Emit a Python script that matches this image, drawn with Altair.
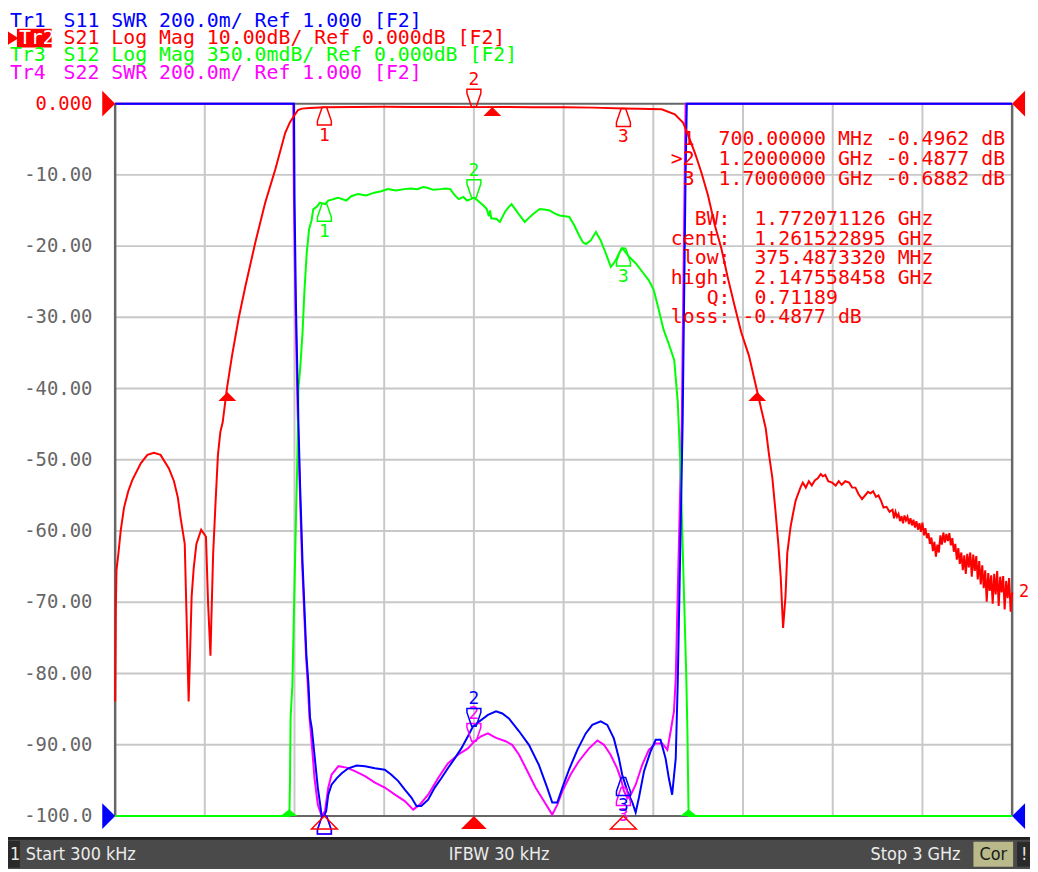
import altair as alt
import pandas as pd

NB = "\u00a0"

# ---------------- data (frequency MHz, value in display units of Tr2: dB, 10 dB/div) ----------------
s21 = [(0.3, -83.9), (2.5, -71.0), (4.7, -65.5), (11, -63.2), (19, -59.9), (30, -56.7), (44, -54.4),
       (58, -52.8), (86, -50.5), (108, -49.3), (130, -49.0), (152, -49.3), (180, -51.2), (197, -53.0),
       (210, -55.3), (219, -58.1), (233, -61.8), (239, -71.9), (246, -83.9), (249, -79.8), (256, -69.2),
       (263, -65.2), (272, -61.8), (288, -59.8), (304, -60.8), (311, -70.1), (319, -77.5), (322, -72.4),
       (328, -63.2), (336, -56.0), (344, -49.3), (352, -46.1), (360, -44.7), (374, -40.0), (391, -35.4),
       (413, -30.2), (436, -25.6), (469, -19.5), (502, -13.9), (536, -9.2), (569, -4.1), (585, -2.6),
       (602, -1.5), (612, -0.9), (625, -0.7), (650, -0.6), (700, -0.50), (800, -0.47), (900, -0.45),
       (1000, -0.47), (1100, -0.48), (1200, -0.49), (1300, -0.47), (1400, -0.50), (1500, -0.52),
       (1600, -0.56), (1700, -0.69), (1750, -0.72), (1828, -0.8), (1872, -1.5), (1900, -2.7),
       (1917, -4.5), (1939, -6.9), (1961, -9.7), (1983, -12.9), (2006, -17.1), (2028, -20.4),
       (2050, -24.6), (2072, -28.4), (2094, -32.1), (2120, -35.4), (2148, -40.5), (2176, -45.6),
       (2187, -49.3), (2198, -52.5), (2209, -57.4), (2218, -61.8), (2226, -66.4), (2234, -73.6),
       (2242, -69.2), (2248, -63.1), (2259, -59.4), (2267, -57.6), (2276, -55.7), (2292, -53.9),
       (2300, -53.2), (2310, -53.9), (2320, -53.0), (2330, -53.6), (2340, -52.9), (2350, -52.6),
       (2360, -52.0), (2367, -52.3), (2375, -52.1), (2385, -53.0), (2398, -53.2), (2410, -53.6),
       (2420, -53.0), (2430, -53.5), (2442, -53.0), (2455, -53.2), (2465, -53.9), (2476, -53.9),
       (2486, -54.8), (2498, -55.5), (2510, -54.9), (2518, -54.5), (2526, -54.7), (2535, -54.4),
       (2545, -55.2), (2553, -55.0), (2562, -55.8), (2570, -56.7), (2580, -56.6), (2590, -57.3),
       (2600, -57.0), (2605, -58.2), (2610, -57.3), (2615, -58.0), (2620, -57.6), (2625, -58.6),
       (2630, -57.9), (2635, -58.9), (2640, -57.8), (2645, -58.5), (2650, -58.0), (2655, -59.0),
       (2660, -58.2), (2665, -59.2), (2670, -58.4), (2675, -59.5), (2680, -58.6), (2685, -59.8),
       (2690, -58.9), (2695, -60.1), (2700, -58.8), (2705, -60.6), (2710, -59.6), (2715, -61.0),
       (2720, -60.3), (2725, -61.8), (2730, -60.9), (2735, -62.8), (2740, -61.5), (2745, -63.6),
       (2750, -61.9), (2755, -63.0), (2760, -60.6), (2765, -61.9), (2770, -60.2), (2775, -61.6),
       (2780, -60.4), (2785, -61.4), (2790, -60.3), (2795, -62.0), (2800, -61.0), (2805, -62.9),
       (2810, -61.8), (2815, -64.0), (2820, -62.4), (2825, -64.6), (2830, -63.0), (2835, -65.5),
       (2840, -63.4), (2845, -66.0), (2850, -63.2), (2855, -65.1), (2860, -63.0), (2865, -66.4),
       (2870, -63.3), (2875, -65.6), (2880, -63.5), (2885, -66.8), (2890, -64.2), (2895, -67.5),
       (2900, -64.8), (2905, -68.0), (2910, -65.5), (2915, -69.9), (2920, -65.9), (2925, -68.4),
       (2930, -66.2), (2935, -70.2), (2940, -66.0), (2945, -68.9), (2950, -65.6), (2955, -70.5),
       (2960, -66.4), (2965, -68.6), (2970, -66.3), (2975, -71.0), (2980, -67.0), (2985, -69.4),
       (2990, -66.6), (2995, -71.3), (3000, -68.6)]

s12 = [(0.3, -100), (583, -100), (585, -95), (587, -86.2), (593, -81.6), (599, -69.8), (606, -56.2),
       (611, -47.5), (613, -40.0), (619, -37.2), (627, -32.1), (633, -26.5), (641, -20.9), (649, -17.6),
       (657, -16.4), (663, -14.8), (674, -14.5), (685, -13.9), (702, -14.1), (713, -13.6), (746, -13.2),
       (773, -13.6), (790, -13.0), (812, -12.7), (840, -12.9), (867, -12.5), (890, -12.3), (912, -12.0),
       (940, -12.2), (967, -12.0), (990, -11.9), (1011, -12.0), (1030, -11.7), (1044, -11.8),
       (1065, -12.1), (1088, -12.0), (1105, -11.9), (1121, -12.0), (1135, -12.8), (1149, -13.4),
       (1165, -13.1), (1177, -13.6), (1190, -13.4), (1199, -13.2), (1210, -13.5), (1221, -13.9),
       (1232, -14.3), (1243, -14.8), (1250, -15.8), (1254, -15.0), (1258, -16.1), (1276, -16.2),
       (1287, -16.6), (1304, -15.2), (1315, -14.6), (1326, -14.1), (1338, -14.8), (1350, -15.5),
       (1370, -16.6), (1385, -16.0), (1398, -15.5), (1420, -14.8), (1440, -14.9), (1453, -15.0),
       (1470, -15.4), (1486, -15.7), (1505, -15.8), (1519, -15.9), (1536, -17.1), (1552, -18.5),
       (1565, -19.5), (1575, -19.7), (1591, -19.2), (1608, -18.0), (1616, -18.6), (1624, -19.2),
       (1641, -21.0), (1658, -22.9), (1666, -22.5), (1674, -22.0), (1688, -20.8), (1697, -20.3),
       (1708, -20.9), (1719, -21.5), (1741, -22.4), (1763, -23.6), (1785, -24.8), (1801, -26.1),
       (1818, -28.9), (1834, -31.7), (1850, -33.5), (1870, -36.0), (1882, -42.0), (1890, -50.0),
       (1900, -65.0), (1910, -80.0), (1914, -88.0), (1918, -100), (3000, -100)]

s11 = [(0.3, 0), (598, 0), (600, -13.0), (605, -28.4), (613, -44.5), (619, -53.9), (627, -64.5),
       (633, -70.5), (640, -77.5), (647, -81.6), (652, -86.2), (658, -87.7), (669, -92.3), (678, -96.0),
       (686, -98.4), (691, -100), (699, -100), (706, -99.3), (713, -97.0), (724, -95.6), (741, -94.7),
       (758, -94.0), (780, -93.3), (808, -92.9), (836, -93.0), (869, -93.3), (902, -93.5), (924, -94.2),
       (947, -95.1), (969, -96.3), (991, -97.4), (1008, -98.6), (1024, -98.6), (1047, -97.7),
       (1069, -96.0), (1091, -94.7), (1113, -93.3), (1136, -91.9), (1158, -90.5), (1180, -88.8),
       (1197, -87.4), (1219, -86.7), (1247, -85.8), (1274, -85.3), (1295, -85.6), (1317, -86.3),
       (1351, -88.1), (1384, -90.0), (1417, -92.8), (1445, -96.0), (1462, -98.1), (1479, -98.1),
       (1496, -96.0), (1518, -93.5), (1546, -90.7), (1574, -88.4), (1596, -87.2), (1624, -86.7),
       (1646, -87.2), (1668, -89.1), (1685, -91.9), (1696, -94.2), (1713, -96.5), (1730, -98.1),
       (1741, -99.5), (1752, -97.4), (1769, -93.7), (1791, -90.9), (1808, -89.3), (1824, -89.3),
       (1841, -91.9), (1852, -94.7), (1863, -97.0), (1875, -91.9), (1882, -80.7), (1898, -45.0),
       (1908, -10.0), (1912, 0), (3000, 0)]

s22 = [(0.3, 0), (596, 0), (598, -13.0), (603, -28.0), (611, -44.0), (617, -53.0), (625, -64.0),
       (631, -70.0), (638, -77.0), (645, -82.0), (650, -86.0), (658, -90.0), (667, -94.7), (678, -98.4),
       (691, -100), (702, -99.3), (713, -96.0), (724, -94.2), (747, -93.0), (774, -93.2), (802, -93.7),
       (836, -94.4), (869, -95.3), (902, -96.0), (936, -97.0), (969, -97.9), (997, -99.1), (1019, -98.4),
       (1047, -97.0), (1080, -94.7), (1113, -92.6), (1147, -91.4), (1180, -90.5), (1202, -89.5),
       (1224, -88.8), (1247, -88.4), (1272, -89.0), (1306, -89.5), (1328, -90.0), (1351, -91.4),
       (1379, -93.7), (1406, -96.0), (1434, -97.9), (1462, -99.8), (1479, -98.4), (1496, -96.5),
       (1523, -94.2), (1551, -92.3), (1585, -90.5), (1613, -89.4), (1635, -90.0), (1657, -91.4),
       (1679, -93.3), (1691, -94.7), (1702, -96.5), (1713, -97.5), (1725, -97.0), (1741, -95.6),
       (1763, -92.8), (1785, -90.7), (1808, -89.8), (1830, -89.8), (1847, -90.7), (1858, -88.1),
       (1869, -85.3), (1875, -80.7), (1895, -45.0), (1905, -10.0), (1908, 0), (3000, 0)]

marker_f = [700.0, 1200.0, 1700.0]
marker_id = ["1", "2", "3"]
s21_mk = [-0.4962, -0.4877, -0.6882]
s12_mk = [-14.0, -13.2, -20.3]
s11_mk = [-100.0, -87.4, -94.6]
s22_mk = [-100.0, -89.5, -96.0]

bw_f = [375.4873320, 2147.558458]
bw_v = [-40.4877, -40.4877]
cent_f = [1261.522895]
cent_v = [-0.4877]
s12_edge_f = [582.0, 1918.0]
s12_edge_v = [-100.0, -100.0]

grid_f = [0.3, 300, 600, 900, 1200, 1500, 1800, 2100, 2400, 2700, 3000]
grid_db = [0, -10, -20, -30, -40, -50, -60, -70, -80, -90, -100]
tick_labels = ["0.000", "-10.00", "-20.00", "-30.00", "-40.00", "-50.00",
               "-60.00", "-70.00", "-80.00", "-90.00", "-100.0"]

hdr_tr = ["Tr1", "Tr2", "Tr3", "Tr4"]
hdr_txt = ["S11 SWR 200.0m/ Ref 1.000 [F2]",
           "S21 Log Mag 10.00dB/ Ref 0.000dB [F2]",
           "S12 Log Mag 350.0mdB/ Ref 0.000dB [F2]",
           "S22 SWR 200.0m/ Ref 1.000 [F2]"]

readout_mk = [" 1  700.00000 MHz -0.4962 dB",
              ">2  1.2000000 GHz -0.4877 dB",
              " 3  1.7000000 GHz -0.6882 dB"]
readout_bw = ["  BW:  1.772071126 GHz",
              "cent:  1.261522895 GHz",
              " low:  375.4873320 MHz",
              "high:  2.147558458 GHz",
              "   Q:  0.71189",
              "loss: -0.4877 dB"]

status_start = "Start 300 kHz"
status_ifbw = "IFBW 30 kHz"
status_stop = "Stop 3 GHz"

# ---------------- styling ----------------
W, H = 904, 718
MONO = "DejaVu Sans Mono"
CHAR = 12.04  # advance of DejaVu Sans Mono at 20px
SANS = "DejaVu Sans Condensed, Liberation Sans Narrow, Liberation Sans, sans-serif"
BLUE, RED, GREEN, MAG = "#0000ff", "#ff0000", "#00ff00", "#ff00ff"
GRID, BORDER = "#c8c8c8", "#666666"

xs = alt.Scale(domain=[0.3, 3000], nice=False, zero=False)
ys = alt.Scale(domain=[-100, 0], nice=False, zero=False)
X = alt.X("f:Q", scale=xs, axis=None)
Y = alt.Y("v:Q", scale=ys, axis=None)

PIN_UP = "M-0.78,1L0.78,1L0.78,0.55L0.25,-1L-0.25,-1L-0.78,0.55Z"
PIN_DOWN = "M-0.78,-1L0.78,-1L0.78,-0.55L0.25,1L-0.25,1L-0.78,-0.55Z"
TRI_UP_APEX = "M-1,1L0,0L1,1Z"
TRI_UP_BASE = "M-1,0L0,-0.8L1,0Z"
TRI_RIGHT = "M-1,-1L0,0L-1,1Z"
TRI_LEFT = "M1,-1L0,0L1,1Z"

ONE = pd.DataFrame({"k": [0]})


def txt(s, x, y, color, size=20, align="left", font=MONO):
    # leading blanks would be trimmed by the renderer: turn them into an x shift
    lead = len(s) - len(s.lstrip(" "))
    s = s.lstrip(" ")
    if align == "left":
        x = x + lead * CHAR * size / 20.0
    return alt.Chart(ONE).mark_text(text=s.replace(" ", NB), font=font, fontSize=size, color=color,
                                    align=align, baseline="middle").encode(
        x=alt.value(x), y=alt.value(y))


def box(x, x2, y, y2, fill):
    return alt.Chart(ONE).mark_rect(color=fill).encode(
        x=alt.value(x), x2=alt.value(x2), y=alt.value(y), y2=alt.value(y2))


def trace(pairs, color):
    df = pd.DataFrame(pairs, columns=["f", "v"])
    df["i"] = range(len(df))
    return alt.Chart(df).mark_line(color=color, strokeWidth=2).encode(x=X, y=Y, order="i:Q")


def markers(vals, color):
    df = pd.DataFrame({"f": marker_f, "v": vals, "id": marker_id})
    below = alt.Chart(df).transform_filter("datum.id != '2'")
    above = alt.Chart(df).transform_filter("datum.id == '2'")
    return [
        below.mark_point(shape=PIN_UP, size=324, filled=False, color=color, strokeWidth=1.5,
                         opacity=1, yOffset=9).encode(x=X, y=Y),
        below.mark_text(font=MONO, fontSize=18, color=color, dy=29, baseline="middle").encode(
            x=X, y=Y, text="id:N"),
        above.mark_point(shape=PIN_DOWN, size=324, filled=False, color=color, strokeWidth=1.5,
                         opacity=1, yOffset=-9).encode(x=X, y=Y),
        above.mark_text(font=MONO, fontSize=18, color=color, dy=-27, baseline="middle").encode(
            x=X, y=Y, text="id:N"),
    ]


def sym(f, v, shape, size, color, filled=True):
    df = pd.DataFrame({"f": f, "v": v})
    return alt.Chart(df).mark_point(shape=shape, size=size, filled=filled, color=color,
                                    opacity=1, strokeWidth=1.5).encode(x=X, y=Y)


layers = []

# grid
layers.append(alt.Chart(pd.DataFrame({"f": grid_f[1:-1]})).mark_rule(color=GRID, strokeWidth=2)
              .encode(x=X))
layers.append(alt.Chart(pd.DataFrame({"v": grid_db[1:-1]})).mark_rule(color=GRID, strokeWidth=2)
              .encode(y=Y))
# frame
layers.append(alt.Chart(pd.DataFrame({"f": [grid_f[0], grid_f[-1]]})).mark_rule(color=BORDER, strokeWidth=2.5)
              .encode(x=X))
layers.append(alt.Chart(pd.DataFrame({"v": [grid_db[0], grid_db[-1]]})).mark_rule(color=BORDER, strokeWidth=2)
              .encode(y=Y))

# traces
layers.append(trace(s22, MAG))
layers.append(trace(s12, GREEN))
layers.append(trace(s11, BLUE))
layers.append(trace(s21, RED))

# markers
layers += markers(s22_mk, MAG)
layers += markers(s11_mk, BLUE)
layers += markers(s12_mk, GREEN)
layers += markers(s21_mk, RED)

# bandwidth search triangles
layers.append(sym(bw_f, bw_v, TRI_UP_APEX, 324, RED))
layers.append(sym(cent_f, cent_v, TRI_UP_APEX, 324, RED))
layers.append(sym(s12_edge_f, s12_edge_v, TRI_UP_BASE, 289, GREEN))

# marker positions on the frequency axis
layers.append(sym([marker_f[0], marker_f[2]], [-100, -100], TRI_UP_APEX, 676, RED, filled=False))
layers.append(sym([marker_f[1]], [-100], TRI_UP_APEX, 676, RED))

# reference position triangles
layers.append(sym([grid_f[0]], [grid_db[0]], TRI_RIGHT, 676, RED))
layers.append(sym([grid_f[0]], [grid_db[-1]], TRI_RIGHT, 676, BLUE))
layers.append(sym([grid_f[-1]], [grid_db[0]], TRI_LEFT, 676, RED))
layers.append(sym([grid_f[-1]], [grid_db[-1]], TRI_LEFT, 676, BLUE))

# trace label at right end
layers.append(alt.Chart(pd.DataFrame({"f": [s21[-1][0]], "v": [s21[-1][1]], "t": ["2"]}))
              .mark_text(font=MONO, fontSize=17, color=RED, align="left", dx=7, baseline="middle")
              .encode(x=X, y=Y, text="t:N"))

# y tick labels
layers.append(alt.Chart(pd.DataFrame({"v": grid_db, "lab": tick_labels}))
              .mark_text(font=MONO, fontSize=19, align="right", baseline="middle")
              .encode(y=Y, x=alt.value(-23), text="lab:N",
                      color=alt.condition("datum.v == 0", alt.value(RED), alt.value(BORDER))))

# marker readout
for i, s in enumerate(readout_mk):
    layers.append(txt(s, 560, 35.5 + 20.5 * i, RED))
for i, s in enumerate(readout_bw):
    layers.append(txt(s, 560, 116.5 + 19.8 * i, RED))

# header lines
hdr_col = [BLUE, RED, GREEN, MAG]
hdr_y = [-83.5, -66, -48.5, -31]
layers.append(box(-99, -64, -75.5, -56.5, RED))
layers.append(alt.Chart(ONE).mark_point(shape="M-0.8,-1L0.8,0L-0.8,1Z", size=196, filled=True,
                                        color=RED, opacity=1)
              .encode(x=alt.value(-103), y=alt.value(-66)))
for i in range(4):
    layers.append(txt(hdr_tr[i], -97 if i == 1 else -106, hdr_y[i], "#ffffff" if i == 1 else hdr_col[i]))
    layers.append(txt(hdr_txt[i], -52, hdr_y[i], hdr_col[i]))

# status bar
layers.append(box(-108, 922, 739, 771, "#1e1e1e"))
layers.append(box(-108, 922, 742, 771, "#4a4a4a"))
layers.append(box(-108, -96, 743, 770, "#2a2a2a"))
layers.append(txt("1", -106, 757, "#e8e8e8", size=18, font=SANS))
layers.append(txt(status_start, -90, 757, "#ececec", size=18, font=SANS))
layers.append(txt(status_ifbw, 387, 757, "#ececec", size=18, font=SANS, align="center"))
layers.append(txt(status_stop, 852, 757, "#ececec", size=18, font=SANS, align="right"))
layers.append(box(865, 905, 744, 769, "#b9b98a"))
layers.append(txt("Cor", 885, 757, "#1a1a1a", size=18, font=SANS, align="center"))
layers.append(box(909, 922, 744, 769, "#2a2a2a"))
layers.append(txt("!", 913, 757, "#e8e8e8", size=18, font=SANS))

chart = alt.layer(*layers).properties(
    width=W, height=H,
    padding={"left": 108, "top": 93, "right": 18, "bottom": 53},
    autosize=alt.AutoSizeParams(type="none"),
    background="white",
).configure_view(strokeWidth=0)

chart.save("out.html", embed_options={"renderer": "svg", "actions": False})
